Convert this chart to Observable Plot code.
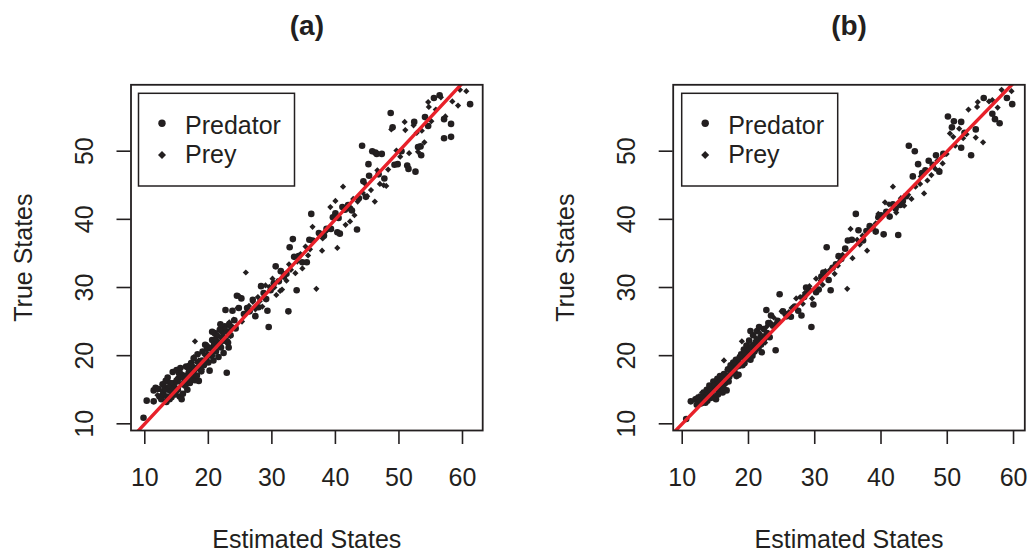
<!DOCTYPE html>
<html>
<head>
<meta charset="utf-8">
<script src="https://cdn.jsdelivr.net/npm/d3@7"></script>
<script src="https://cdn.jsdelivr.net/npm/@observablehq/plot@0.6"></script>
<style>
  body { margin: 0; background: #fff; }
  #chart { display: flex; width: 1029px; height: 552px; }
</style>
</head>
<body>
<div id="chart"></div>
<script>
// [estimated, true] state pairs, one list per species and panel
const predatorA = [
  [9.8,10.9],[10.3,13.4],[11.4,13.3],[11.4,14.9],[11.7,15.3],[12.3,14.0],[12.6,13.6],[12.9,14.4],[13.1,15.4],[13.3,16.3],
  [13.5,14.0],[13.7,15.0],[13.9,13.6],[14.1,14.8],[14.3,15.6],[14.4,17.6],[14.6,16.0],[14.8,14.3],[15.0,17.9],[15.2,15.1],
  [15.3,16.6],[15.5,14.0],[15.6,18.2],[15.8,13.6],[15.9,15.8],[16.1,17.1],[16.3,16.3],[16.5,18.4],[16.7,15.0],[16.9,17.5],
  [17.1,16.0],[17.3,18.9],[17.5,17.0],[17.7,19.6],[17.9,16.4],[18.1,18.2],[18.3,20.2],[18.5,16.3],[18.7,19.0],[18.9,17.7],
  [19.1,20.6],[19.3,18.6],[19.5,21.6],[19.7,19.4],[19.9,20.1],[20.2,17.8],[20.4,21.1],[20.6,22.3],[20.8,19.3],[21.0,23.3],
  [21.2,20.6],[21.4,22.0],[21.6,19.8],[21.8,23.8],[22.0,21.2],[22.2,22.7],[22.4,20.4],[22.6,24.3],[22.7,26.7],[22.9,17.5],
  [23.1,21.9],[23.3,24.6],[23.5,23.0],[23.8,26.6],[24.1,25.2],[24.5,28.8],[24.8,27.0],
  [12.1,15.1],[12.8,15.8],[13.4,13.2],[13.6,16.8],[14.0,16.0],[14.2,13.9],[14.7,15.3],[15.1,16.2],[15.4,17.4],[15.7,16.9],
  [16.0,14.4],[16.4,15.6],[16.6,16.8],[17.0,18.5],[17.4,17.7],[17.8,17.9],[18.2,17.1],[18.6,18.1],[19.0,19.3],[19.4,19.0],
  [19.8,21.0],[20.0,19.0],[20.5,20.0],[20.9,21.6],[21.3,22.9],[21.7,21.4],[22.1,23.6],[22.5,22.2],[23.0,23.5],[23.6,24.2],
  [24.3,24.0],[20.6,23.5],[21.9,24.6],[23.2,21.2],
  [25.2,28.4],[25.6,26.1],[26.1,27.0],[26.5,26.5],[27.0,28.2],[27.4,25.8],[27.9,27.1],[28.3,30.2],[28.7,29.2],[29.1,28.3],
  [29.3,26.6],[29.5,24.2],[29.8,29.6],[30.3,30.6],[30.6,33.1],[31.1,30.9],[31.4,32.4],[31.9,31.6],[32.3,32.0],[32.6,26.5],
  [32.8,35.9],[33.3,37.1],[33.5,34.5],[33.9,29.6],[34.2,34.6],[34.8,33.7],[35.5,33.7],[35.9,37.0],[36.2,40.8],[36.4,36.9],
  [37.4,38.0],[38.2,37.6],[38.6,38.6],[39.3,38.6],[39.6,40.3],
  [40.0,40.9],[40.3,38.1],[40.5,40.2],[40.7,37.9],[41.1,41.8],[41.5,41.4],[42.0,42.1],[42.3,41.6],[42.6,41.3],[43.4,38.5],
  [43.7,43.1],[44.2,50.8],[44.4,45.6],[44.8,43.3],[45.2,48.1],[45.3,46.4],[45.8,50.0],[46.3,49.8],[46.5,49.6],[46.8,46.6],
  [47.3,49.6],[47.7,46.0],[48.7,55.6],[49.0,53.5],[49.3,48.0],[49.8,48.1],[50.4,50.0],[51.3,47.9],[51.5,47.4],[52.4,54.3],
  [52.6,47.0],[53.0,50.6],[53.4,50.7],[53.5,49.4],[54.1,55.0],[54.6,53.7],[55.5,57.8],[56.4,58.2],[57.1,54.7],[57.1,51.9],
  [58.2,52.1],[58.2,54.0],[61.2,56.9]
];
const preyA = [
  [12.0,14.2],[12.7,14.8],[13.2,14.9],[13.8,15.5],[14.3,15.1],[14.9,16.4],[15.0,16.6],[15.7,17.5],[16.0,16.7],[16.4,17.0],
  [16.8,18.0],[17.2,16.5],[17.7,19.8],[17.9,22.1],[18.2,19.0],[18.5,19.3],[19.0,18.0],[19.4,20.1],[19.9,21.5],[20.3,21.0],
  [20.7,20.0],[21.1,22.4],[21.5,23.0],[21.9,21.7],[22.3,23.2],[22.6,24.0],[23.0,22.3],[23.3,24.9],[23.7,24.2],[24.0,25.3],
  [24.6,27.0],[24.9,28.7],[25.3,25.0],[25.9,32.2],[26.4,27.3],[27.0,27.9],[27.8,28.6],[28.1,28.0],[28.5,27.2],[29.0,30.3],
  [29.6,30.1],[30.1,31.3],[30.7,28.9],[31.3,29.5],[31.6,29.7],[32.3,31.0],[33.0,32.6],[33.7,32.1],[34.0,33.8],[34.5,34.9],
  [35.3,36.0],[35.7,34.7],[36.4,38.9],[37.0,29.8],[37.9,35.4],[38.6,38.3],[39.2,41.8],[40.0,42.7],[40.3,35.8],[41.2,44.8],
  [41.6,39.2],[42.3,39.7],[42.8,43.0],[43.5,42.6],[44.3,43.9],[45.0,43.4],[45.6,44.3],[46.2,42.6],[47.0,45.2],[47.6,45.0],
  [48.3,47.3],[48.8,53.2],[49.6,50.1],[50.2,49.2],[50.9,54.3],[51.0,53.1],[51.6,49.7],[52.3,53.8],[53.0,49.9],[53.6,53.0],
  [54.0,51.3],[54.6,57.2],[54.7,56.5],[55.8,56.1],[56.6,57.9],[57.3,55.1],[58.4,57.3],[59.3,56.7],[59.6,59.0],[60.6,58.8],
  [13.5,13.6],[14.6,14.6],[15.3,14.9],[16.2,16.0],[17.5,18.6],[18.8,18.6],[19.6,19.4],[20.9,21.4],[22.0,22.6],[23.5,22.9],
  [26.0,26.4],[27.4,26.8],[30.4,30.0],[32.7,33.4],[34.8,32.8],[36.0,35.6],[38.0,37.2],[43.0,40.6],[44.7,45.2],[46.6,47.2],
  [48.0,44.9],[52.8,52.7],[55.1,54.4]
];
const predatorB = [
  [10.6,10.7],[11.3,13.3],[12.0,13.6],[12.4,13.2],[12.7,14.0],[13.0,13.4],[13.3,14.6],[13.5,13.1],[13.7,15.0],[13.9,14.1],
  [14.1,15.6],[14.3,13.8],[14.5,14.8],[14.7,16.2],[14.9,15.2],[15.1,13.6],[15.3,16.6],[15.5,15.0],[15.7,17.0],[15.9,15.8],
  [16.1,14.6],[16.3,17.3],[16.5,16.0],[16.7,14.9],[16.9,18.0],[17.1,16.9],[17.3,18.6],[17.5,17.4],[17.7,19.0],[17.9,17.6],
  [18.1,19.4],[18.3,18.4],[18.5,17.2],[18.7,19.8],[18.9,20.2],[19.1,18.6],[19.3,20.9],[19.5,19.6],[19.7,21.5],[19.9,20.4],
  [20.1,22.2],[20.3,19.4],[20.5,21.2],[20.7,23.0],[20.9,20.6],[21.1,22.0],[21.3,23.6],[21.5,21.1],[21.8,22.7],[22.0,20.5],
  [22.3,23.9],[22.7,26.7],[23.0,24.8],[23.4,25.9],[24.1,20.8],[24.7,29.0],[25.2,26.5],
  [12.2,12.8],[12.9,13.0],[13.2,13.9],[13.8,13.4],[14.0,14.5],[14.4,15.1],[14.8,13.9],[15.0,15.7],[15.4,14.3],[15.8,16.4],
  [16.2,15.4],[16.6,17.0],[17.0,16.2],[17.4,17.9],[17.8,18.3],[18.2,17.0],[18.6,18.9],[19.0,19.9],[19.4,18.9],[19.8,20.8],
  [20.2,20.2],[20.6,20.0],[21.0,21.5],[21.4,22.3],[21.9,21.6],[22.4,22.5],[22.8,23.3],[23.2,22.7],[23.7,24.4],[24.4,25.1],
  [20.3,23.6],[21.6,24.2],
  [25.6,26.1],[26.4,25.7],[27.0,27.2],[27.5,26.6],[28.0,25.9],[28.4,28.6],[28.7,30.0],[29.1,29.6],[29.5,24.2],[29.8,27.5],
  [30.2,29.3],[30.6,29.7],[31.0,31.6],[31.3,32.2],[31.8,35.9],[32.1,31.1],[32.4,29.6],[32.7,32.9],[33.2,33.4],[33.6,34.6],
  [34.0,34.2],[34.6,35.7],[35.0,36.9],[35.6,37.0],[36.2,40.8],[36.6,38.4],[37.3,36.9],[37.8,38.3],[38.3,39.0],[38.7,38.8],
  [39.2,38.2],[39.6,40.3],
  [40.0,40.6],[40.4,37.8],[40.8,41.1],[41.3,40.4],[41.8,42.2],[42.2,41.6],[42.6,37.7],[42.9,42.1],[43.3,42.7],[43.8,43.4],
  [44.2,50.8],[44.8,46.3],[45.1,50.0],[45.6,48.1],[46.2,46.8],[46.7,47.2],[47.2,48.6],[47.8,48.0],[48.3,49.4],[48.8,47.0],
  [49.4,49.6],[50.1,55.1],[50.7,53.5],[51.0,54.4],[52.1,54.3],[52.1,50.5],[52.6,52.7],[53.6,49.4],[54.3,53.2],[55.5,57.8],
  [56.8,55.5],[57.2,54.7],[57.9,54.1],[59.0,57.8],[59.8,56.9]
];
const preyB = [
  [12.2,13.9],[13.0,14.6],[13.6,14.3],[14.2,15.0],[14.8,15.7],[15.4,16.1],[16.0,16.8],[16.3,19.3],[16.8,17.9],[17.4,18.2],
  [17.9,18.9],[18.4,19.6],[19.0,22.1],[19.4,20.3],[20.0,20.9],[20.6,21.6],[21.2,22.5],[21.7,23.3],[22.2,22.9],[22.8,24.3],
  [23.3,24.9],[23.8,25.6],[24.2,24.8],[25.0,26.5],[25.8,25.7],[26.5,27.0],[27.2,28.4],[27.8,28.6],[28.5,29.2],[29.2,30.2],
  [29.6,28.4],[30.2,31.3],[30.9,31.0],[31.6,32.4],[32.3,32.6],[33.0,32.0],[33.5,33.2],[34.2,34.8],[34.9,29.8],[35.4,38.6],
  [35.7,34.3],[36.4,37.0],[37.2,37.6],[37.9,35.4],[38.5,38.6],[39.2,39.4],[40.0,40.2],[40.6,42.5],[41.2,42.2],[41.8,44.8],
  [42.3,41.0],[42.9,42.4],[43.5,42.0],[44.1,43.6],[44.6,43.0],[45.2,44.8],[45.9,45.2],[46.5,43.8],[47.0,45.7],[47.6,46.5],
  [48.2,47.4],[48.8,47.2],[49.3,48.2],[49.9,49.6],[50.4,52.6],[50.9,52.1],[51.2,50.8],[51.8,53.3],[52.4,51.9],[53.2,56.1],
  [54.3,52.0],[54.6,57.2],[54.5,56.5],[55.4,51.3],[56.3,57.3],[57.6,56.4],[58.2,59.0],[59.7,58.8],
  [12.6,13.4],[13.3,13.8],[14.5,14.4],[15.1,15.2],[15.7,15.6],[16.5,16.3],[17.1,17.3],[18.0,18.1],[18.8,18.5],[19.7,19.4],
  [20.3,21.4],[21.0,20.6],[22.5,21.9],[26.1,26.4],[28.2,27.6],[31.2,30.4],[33.8,33.9],[36.8,36.3],[39.6,40.8],[43.0,43.1],
  [46.0,46.3],[48.5,48.6],[52.9,52.5],[56.8,57.5]
];

// axis ranges and tick values
const xDomainA = [7.83, 63.18];
const xDomainB = [8.64, 61.7];
const yDomain = [9.02, 59.74];
const xTicks = [10, 20, 30, 40, 50, 60];
const yTicks = [10, 20, 30, 40, 50];

const panelTitles = ["(a)", "(b)"];
const xLabel = "Estimated States";
const yLabel = "True States";
const seriesNames = ["Predator", "Prey"];

const ink = "#231f20";
const red = "#e8212a";
const font = "'Liberation Sans', Arial, Helvetica, sans-serif";

// boxed key in the top-left corner of the plotting region
function legend(left, top) {
  return (index, scales, values, dims) => {
    const g = d3.create("svg:g")
      .attr("font-family", font).attr("font-size", 25).attr("fill", ink).attr("text-anchor", "start");
    const x0 = dims.marginLeft + left, y0 = dims.marginTop + top;
    g.append("rect").attr("x", x0).attr("y", y0).attr("width", 156).attr("height", 92.7)
      .attr("fill", "#fff").attr("stroke", ink).attr("stroke-width", 1.5);
    const cx = x0 + 23.5;
    g.append("circle").attr("cx", cx).attr("cy", y0 + 30).attr("r", 3.7);
    const s = 4.0, cy = y0 + 61.7;
    g.append("path").attr("d", `M${cx},${cy - s}L${cx + s},${cy}L${cx},${cy + s}L${cx - s},${cy}Z`);
    g.append("text").attr("x", x0 + 46.5).attr("y", y0 + 41).attr("text-anchor", "start").text(seriesNames[0]);
    g.append("text").attr("x", x0 + 46.5).attr("y", y0 + 70).attr("text-anchor", "start").text(seriesNames[1]);
    return g.node();
  };
}

function panel({pred, prey, xDomain, width, marginLeft, marginRight, title, legendLeft}) {
  // the y = x reference line spans the whole visible range, clipped to the frame
  const identity = [Math.min(xDomain[0], yDomain[0]), Math.max(xDomain[1], yDomain[1])];
  return Plot.plot({
    width,
    height: 552,
    marginTop: 84.3,
    marginBottom: 122,
    marginLeft,
    marginRight,
    x: {domain: xDomain},
    y: {domain: yDomain},
    style: {fontFamily: font, fontSize: "25px", color: ink, background: "#fff", overflow: "visible"},
    marks: [
      Plot.dot(pred, {x: d => d[0], y: d => d[1], r: 3.3, fill: ink, stroke: "none"}),
      Plot.dot(prey, {x: d => d[0], y: d => d[1], symbol: "diamond2", r: 2.8, fill: ink, stroke: "none"}),
      Plot.line(identity, {x: d => d, y: d => d, stroke: red, strokeWidth: 3.4, clip: true}),
      Plot.frame({stroke: ink, strokeWidth: 1.8}),
      Plot.axisX({ticks: xTicks, tickSize: 14, tickFormat: () => "", label: null, stroke: ink, strokeWidth: 1.6}),
      Plot.axisY({ticks: yTicks, tickSize: 14, tickFormat: () => "", label: null, stroke: ink, strokeWidth: 1.6}),
      Plot.text(xTicks, {x: d => d, text: d => String(d), frameAnchor: "bottom", dy: 47.5, lineAnchor: "middle", fontSize: 25, fill: ink}),
      Plot.text(yTicks, {y: d => d, text: d => String(d), frameAnchor: "left", dx: -46, rotate: -90, textAnchor: "middle", lineAnchor: "middle", fontSize: 25, fill: ink}),
      Plot.text([xLabel], {text: d => d, frameAnchor: "bottom", dy: 109, lineAnchor: "middle", fontSize: 25, fill: ink}),
      Plot.text([yLabel], {text: d => d, frameAnchor: "left", dx: -107, rotate: -90, textAnchor: "middle", lineAnchor: "middle", fontSize: 25, fill: ink}),
      Plot.text([title], {text: d => d, frameAnchor: "top", dy: -59, lineAnchor: "middle", fontSize: 28, fontWeight: "bold", fill: ink}),
      legend(legendLeft, 9)
    ]
  });
}

const chart = document.getElementById("chart");
chart.append(panel({pred: predatorA, prey: preyA, xDomain: xDomainA, width: 515, marginLeft: 130.5, marginRight: 32.8, title: panelTitles[0], legendLeft: 8}));
chart.append(panel({pred: predatorB, prey: preyB, xDomain: xDomainB, width: 514, marginLeft: 157.7, marginRight: 4.7, title: panelTitles[1], legendLeft: 9}));
</script>
</body>
</html>
